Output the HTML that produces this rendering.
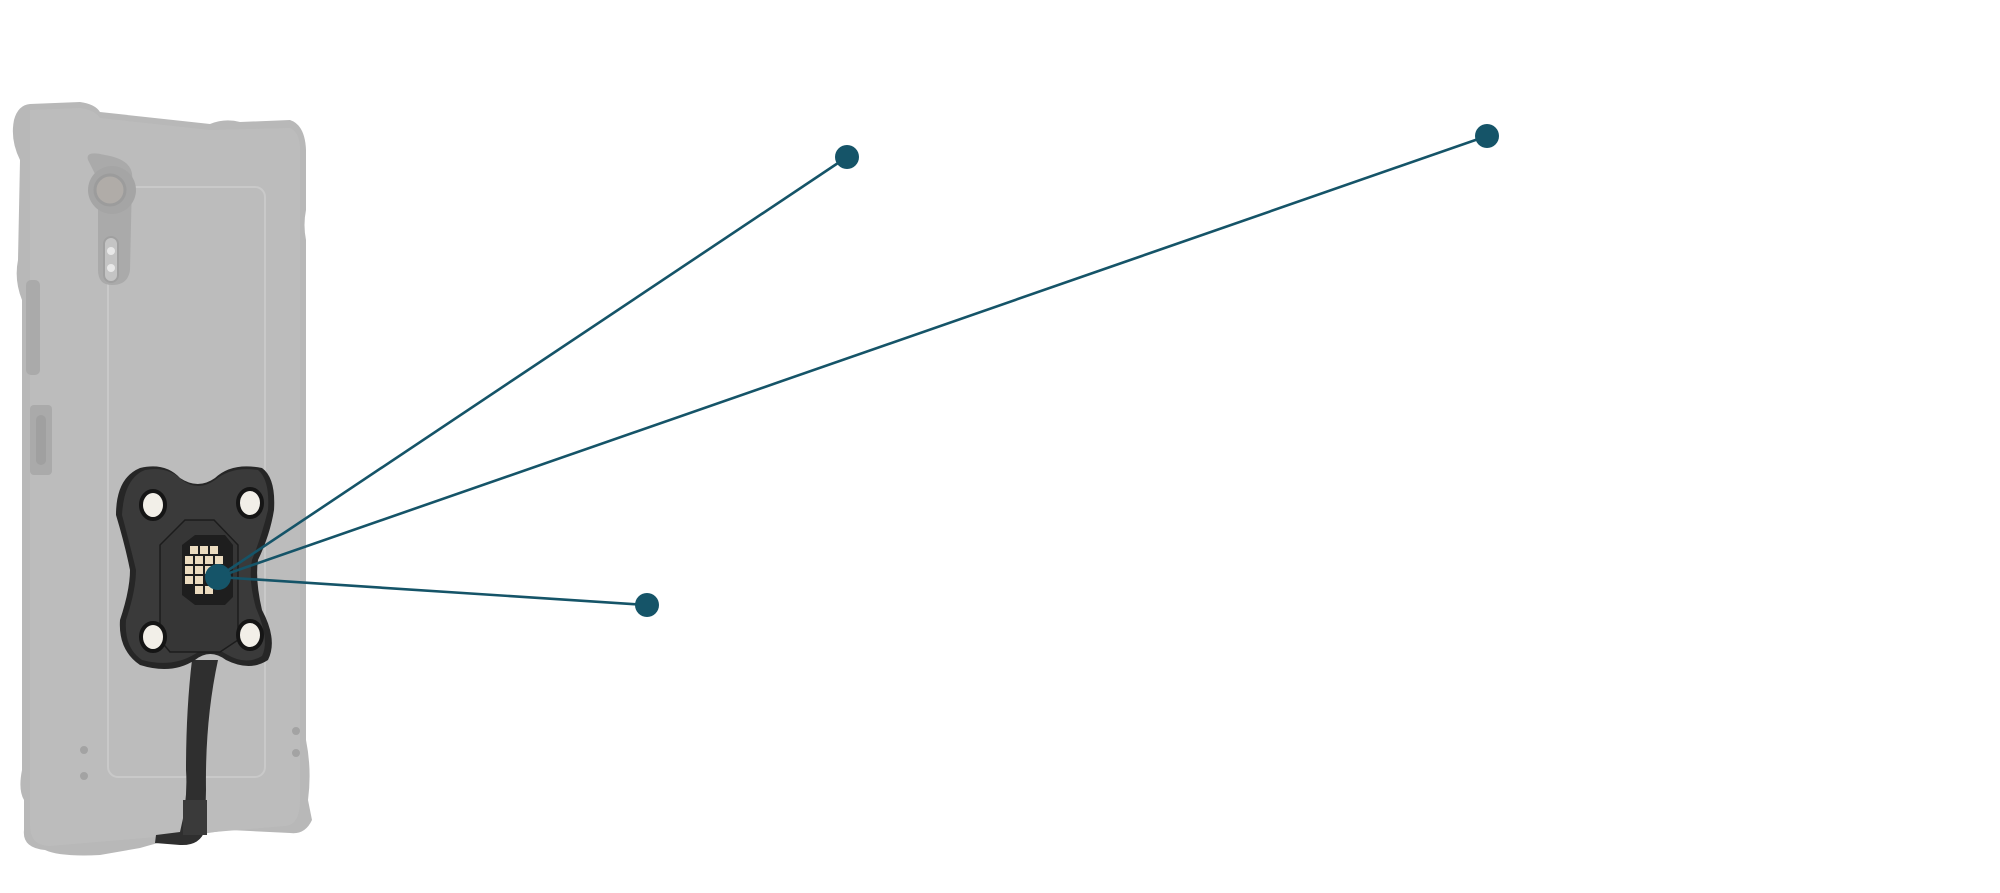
<!DOCTYPE html>
<html><head><meta charset="utf-8"><style>html,body{margin:0;padding:0;background:#fff;width:2000px;height:893px;overflow:hidden}</style></head>
<body>
<svg width="2000" height="893" viewBox="0 0 2000 893" xmlns="http://www.w3.org/2000/svg">
<!-- phone -->
<path d="M30 104 L80 102 Q95 104 100 112 L210 124 Q225 118 240 122 L290 120 Q305 125 306 150 L306 210 Q303 225 306 240 L306 740 Q312 770 308 800 L312 820 Q305 835 290 833 L230 830 Q180 836 140 848 L100 855 Q60 857 45 850 Q22 848 24 830 L24 800 Q18 790 22 770 L22 490 L22 300 Q14 280 18 260 L20 160 Q10 140 14 120 Q18 105 30 104 Z" fill="#b8b8b8"/>
<path d="M30 110 L80 108 Q95 110 100 118 L210 130 L290 128 Q300 132 300 150 L300 800 Q300 825 285 826 L50 846 Q30 846 30 825 Z" fill="#bcbcbc"/>
<rect x="108" y="187" width="157" height="590" rx="10" fill="none" stroke="#c9c9c9" stroke-width="2"/>
<path d="M88 160 Q85 150 105 155 Q135 160 132 180 L130 270 Q128 285 112 285 Q98 285 98 270 L98 180 Z" fill="#aaaaaa"/>
<circle cx="112" cy="190" r="24" fill="#a5a5a5"/>
<circle cx="110" cy="190" r="15" fill="#b0aca8" stroke="#9c9c9c" stroke-width="3"/>
<rect x="104" y="237" width="14" height="45" rx="7" fill="#c4c4c4" stroke="#a0a0a0" stroke-width="2"/>
<circle cx="111" cy="251" r="4" fill="#e8e8e8"/><circle cx="111" cy="268" r="4" fill="#e8e8e8"/>
<rect x="26" y="280" width="14" height="95" rx="5" fill="#aaaaaa"/>
<rect x="30" y="405" width="22" height="70" rx="4" fill="#aaaaaa"/>
<rect x="36" y="415" width="10" height="50" rx="5" fill="#a0a0a0"/>
<circle cx="84" cy="750" r="4" fill="#a3a3a3"/><circle cx="84" cy="776" r="4" fill="#a3a3a3"/>
<circle cx="296" cy="731" r="4" fill="#a3a3a3"/><circle cx="296" cy="753" r="4" fill="#a3a3a3"/>
<!-- cable -->
<path d="M192 660 L218 660 Q205 720 206 790 L205 830 Q200 846 180 845 L155 843 L156 835 L180 832 Q188 800 186 770 Q186 710 192 660 Z" fill="#2f2f2f"/>
<path d="M183 800 L207 800 L207 835 L183 835 Z" fill="#3a3a3a"/>
<!-- mount -->
<path d="M140 468 Q165 462 180 478 Q198 490 215 478 Q232 462 262 468 Q276 478 274 510 Q270 535 258 560 Q255 580 262 610 Q278 640 268 660 Q250 672 226 660 Q210 648 195 660 Q172 675 140 665 Q118 650 120 620 Q130 590 130 570 Q125 545 116 515 Q116 478 140 468 Z" fill="#262626"/>
<path d="M145 470 Q168 466 182 480 Q198 492 215 480 Q232 466 258 470 Q270 480 268 510 Q262 535 252 560 Q248 580 256 608 Q270 640 262 656 Q246 666 226 654 Q210 644 195 654 Q172 668 142 660 Q124 648 126 620 Q136 590 136 570 Q130 545 122 515 Q124 478 145 470 Z" fill="#3a3a3a"/>
<polygon points="185,520 214,520 238,545 238,640 220,652 170,652 160,640 160,545" fill="#363636" stroke="#1c1c1c" stroke-width="1.5"/>
<polygon points="195,535 225,535 233,545 233,597 225,605 195,605 182,595 182,545" fill="#1e1e1e"/>
<g fill="#ecdcc0">
<rect x="190" y="546" width="8" height="8"/><rect x="200" y="546" width="8" height="8"/><rect x="210" y="546" width="8" height="8"/>
<rect x="185" y="556" width="8" height="8"/><rect x="195" y="556" width="8" height="8"/><rect x="205" y="556" width="8" height="8"/><rect x="215" y="556" width="8" height="8"/>
<rect x="185" y="566" width="8" height="8"/><rect x="195" y="566" width="8" height="8"/><rect x="205" y="566" width="8" height="8"/>
<rect x="185" y="576" width="8" height="8"/><rect x="195" y="576" width="8" height="8"/>
<rect x="195" y="586" width="8" height="8"/><rect x="205" y="586" width="8" height="8"/>
</g>
<g fill="#f2efe8" stroke="#151515" stroke-width="4">
<ellipse cx="153" cy="505" rx="12" ry="14"/><ellipse cx="250" cy="503" rx="12" ry="14"/>
<ellipse cx="153" cy="637" rx="12" ry="14"/><ellipse cx="250" cy="635" rx="12" ry="14"/>
</g>
<!-- callouts -->
<g stroke="#155468" stroke-width="2.6" fill="none">
<line x1="218" y1="577" x2="847" y2="157"/>
<line x1="218" y1="577" x2="1487" y2="136"/>
<line x1="218" y1="577" x2="647" y2="605"/>
</g>
<g fill="#155468">
<circle cx="218" cy="577" r="13"/>
<circle cx="847" cy="157" r="12"/>
<circle cx="1487" cy="136" r="12"/>
<circle cx="647" cy="605" r="12"/>
</g>
</svg>
</body></html>
